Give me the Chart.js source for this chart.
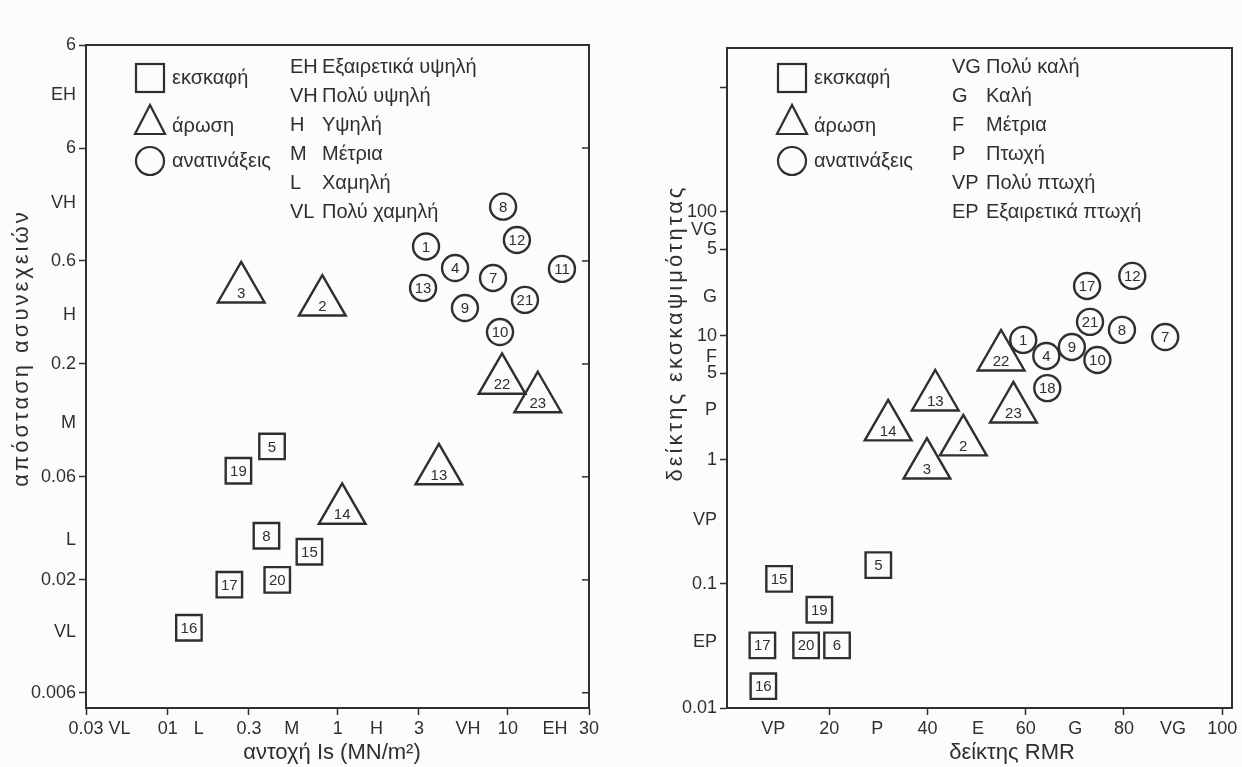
<!DOCTYPE html>
<html lang="el">
<head>
<meta charset="utf-8">
<title>Εκσκαψιμότητα πετρωμάτων</title>
<script src="https://cdn.jsdelivr.net/npm/chart.js@4.4.1/dist/chart.umd.min.js"></script>
<style>
  html, body { margin: 0; padding: 0; background: #fcfcfb; }
  body { width: 1242px; height: 767px; position: relative; overflow: hidden; }
  canvas { position: absolute; top: 0; }
  #chartIs { left: 0; }
  #chartRmr { left: 620px; }
</style>
</head>
<body>
<canvas id="chartIs" width="620" height="767"></canvas>
<canvas id="chartRmr" width="622" height="767"></canvas>
<script>
// --- left panel: point load strength Is vs discontinuity spacing ---
const isTickValues = [0.033, 0.052, 0.1, 0.152, 0.3, 0.536, 1, 1.69, 3, 5.82, 10, 18.9, 30];
const isTickLabels = ['0.03', 'VL', '01', 'L', '0.3', 'M', '1', 'H', '3', 'VH', '10', 'EH', '30'];
const spacingTickValues = [6, 3.52, 2, 1.11, 0.6, 0.337, 0.2, 0.107, 0.06, 0.0306, 0.02, 0.0115, 0.006];
const spacingTickLabels = ['6', 'EH', '6', 'VH', '0.6', 'H', '0.2', 'M', '0.06', 'L', '0.02', 'VL', '0.006'];

// εκσκαφή (squares)
const digIdsL = [5, 19, 8, 15, 17, 20, 16];
const digIsL = [0.41, 0.26, 0.38, 0.68, 0.23, 0.44, 0.133];
const digSpacingL = [0.083, 0.064, 0.032, 0.027, 0.019, 0.020, 0.012];
// άρωση (triangles)
const rippIdsL = [3, 2, 14, 13, 22, 23];
const rippIsL = [0.27, 0.81, 1.06, 3.93, 9.24, 15.0];
const rippSpacingL = [0.445, 0.387, 0.042, 0.064, 0.168, 0.138];
// ανατινάξεις (circles)
const blastIdsL = [8, 12, 1, 4, 7, 11, 13, 21, 9, 10];
const blastIsL = [9.37, 11.3, 3.30, 4.89, 8.18, 20.8, 3.17, 12.6, 5.59, 8.99];
const blastSpacingL = [1.07, 0.75, 0.70, 0.556, 0.50, 0.551, 0.45, 0.396, 0.363, 0.281];

const spacingCodes = ['EH', 'VH', 'H', 'M', 'L', 'VL'];
const spacingNames = ['Εξαιρετικά υψηλή', 'Πολύ υψηλή', 'Υψηλή', 'Μέτρια', 'Χαμηλή', 'Πολύ χαμηλή'];

// --- right panel: RMR vs excavatability index ---
const rmrTickValues = [8.6, 20, 29.8, 40, 50.3, 60, 70.1, 80, 90, 100];
const rmrTickLabels = ['VP', '20', 'P', '40', 'E', '60', 'G', '80', 'VG', '100'];
const indexTickValues = [1000, 100, 71.6, 50, 20.6, 10, 6.77, 5, 2.53, 1, 0.328, 0.1, 0.034, 0.01];
const indexTickLabels = ['', '100', 'VG', '5', 'G', '10', 'F', '5', 'P', '1', 'VP', '0.1', 'EP', '0.01'];

const digIdsR = [15, 19, 17, 20, 6, 16, 5];
const digRmrR = [9.8, 18.0, 6.4, 15.3, 21.6, 6.6, 30.0];
const digIndexR = [0.110, 0.062, 0.032, 0.032, 0.032, 0.015, 0.142];

const rippIdsR = [14, 13, 3, 2, 22, 23];
const rippRmrR = [32.0, 41.6, 39.9, 47.3, 55.0, 57.5];
const rippIndexR = [1.85, 3.22, 0.91, 1.40, 6.77, 2.58];

const blastIdsR = [17, 12, 21, 8, 7, 1, 4, 9, 10, 18];
const blastRmrR = [72.5, 81.7, 73.1, 79.6, 88.4, 59.5, 64.2, 69.4, 74.6, 64.4];
const blastIndexR = [25.3, 30.5, 13.0, 11.2, 9.8, 9.3, 6.9, 8.15, 6.4, 3.8];

const indexCodes = ['VG', 'G', 'F', 'P', 'VP', 'EP'];
const indexNames = ['Πολύ καλή', 'Καλή', 'Μέτρια', 'Πτωχή', 'Πολύ πτωχή', 'Εξαιρετικά πτωχή'];

const methodNames = ['εκσκαφή', 'άρωση', 'ανατινάξεις'];

const INK = '#2f2f2f';
const FONT = '"Liberation Sans", Arial, Helvetica, sans-serif';

// letter classes sit between the numeric ticks and get no tick mark
function hasMark(label) {
  return !/^[A-Z]+$/.test(label);
}

function points(xs, ys) {
  return xs.map((x, i) => ({ x: x, y: ys[i] }));
}

function markerSet(label, ids, xs, ys, style) {
  const sizes = { rect: 18, triangle: 27, circle: 13 };
  return {
    label: label,
    ids: ids,
    data: points(xs, ys),
    pointStyle: style,
    pointRadius: sizes[style],
    pointHoverRadius: sizes[style],
    borderColor: INK,
    backgroundColor: 'rgba(255,255,255,0)',
    borderWidth: 2.4
  };
}

// number written inside each marker
const markerLabels = {
  id: 'markerLabels',
  afterDatasetsDraw(chart) {
    const ctx = chart.ctx;
    ctx.save();
    ctx.font = '15px ' + FONT;
    ctx.fillStyle = INK;
    ctx.textAlign = 'center';
    ctx.textBaseline = 'middle';
    chart.data.datasets.forEach((ds, di) => {
      const meta = chart.getDatasetMeta(di);
      meta.data.forEach((pt, i) => {
        const dy = ds.pointStyle === 'triangle' ? 5 : 1;
        ctx.fillText(String(ds.ids[i]), pt.x, pt.y + dy);
      });
    });
    ctx.restore();
  }
};

// top and right sides of the box, optional inner ticks on the right
function framePlugin(innerTicks) {
  return {
    id: 'frame',
    afterDraw(chart) {
      const ctx = chart.ctx;
      const a = chart.chartArea;
      ctx.save();
      ctx.strokeStyle = INK;
      ctx.lineWidth = 2;
      ctx.beginPath();
      ctx.moveTo(a.left - 1, a.top);
      ctx.lineTo(a.right, a.top);
      ctx.lineTo(a.right, a.bottom + 1);
      ctx.stroke();
      if (innerTicks) {
        const ys = chart.scales.y;
        ctx.lineWidth = 1.5;
        ys.ticks.forEach((t, i) => {
          if (!hasMark(innerTicks[i])) return;
          const py = ys.getPixelForValue(t.value);
          ctx.beginPath();
          ctx.moveTo(a.right - 7, py);
          ctx.lineTo(a.right, py);
          ctx.stroke();
        });
      }
      ctx.restore();
    }
  };
}

// legend of methods, list of class names and the axis titles
function notesPlugin(n) {
  return {
    id: 'notes',
    afterDraw(chart) {
      const ctx = chart.ctx;
      ctx.save();
      ctx.strokeStyle = INK;
      ctx.fillStyle = INK;
      ctx.lineWidth = 2.2;

      const lx = n.legendX;
      const r = n.legendRows;
      ctx.strokeRect(lx - 14, r[0] - 14, 28, 28);
      ctx.beginPath();
      ctx.moveTo(lx, r[1] - 17);
      ctx.lineTo(lx - 15, r[1] + 12);
      ctx.lineTo(lx + 15, r[1] + 12);
      ctx.closePath();
      ctx.stroke();
      ctx.beginPath();
      ctx.arc(lx, r[2], 14, 0, Math.PI * 2);
      ctx.stroke();

      ctx.font = '20px ' + FONT;
      ctx.textAlign = 'left';
      ctx.textBaseline = 'middle';
      methodNames.forEach((t, i) => ctx.fillText(t, lx + 22, r[i] + (i === 1 ? 4 : 0)));

      n.codes.forEach((c, i) => {
        const y = n.listTop + i * n.listStep;
        ctx.fillText(c, n.codeX, y);
        ctx.fillText(n.names[i], n.nameX, y);
      });

      ctx.textAlign = 'center';
      ctx.font = '22px ' + FONT;
      ctx.fillText(n.xTitle, n.xTitleX, n.xTitleY);
      ctx.translate(n.yTitleX, n.yTitleY);
      ctx.rotate(-Math.PI / 2);
      ctx.letterSpacing = '3px';
      ctx.fillText(n.yTitle, 0, 0);
      ctx.restore();
    }
  };
}

function axisOptions(type, min, max, values, labels, fit) {
  return {
    type: type,
    min: min,
    max: max,
    afterBuildTicks: axis => {
      axis.ticks = values.map(v => ({ value: v }));
    },
    afterFit: fit,
    ticks: {
      autoSkip: false,
      maxRotation: 0,
      minRotation: 0,
      padding: 3,
      color: INK,
      font: { family: FONT, size: 18 },
      callback: (v, i) => labels[i]
    },
    grid: {
      display: true,
      drawOnChartArea: false,
      drawTicks: true,
      tickLength: 7,
      tickWidth: 1.5,
      tickColor: c => (hasMark(labels[c.index]) ? INK : 'rgba(0,0,0,0)')
    },
    border: { display: true, color: INK, width: 2 }
  };
}

function baseOptions(padding, scales) {
  return {
    responsive: false,
    animation: false,
    events: [],
    layout: { padding: padding, autoPadding: false },
    plugins: {
      legend: { display: false },
      tooltip: { enabled: false }
    },
    scales: scales
  };
}

// left chart
new Chart(document.getElementById('chartIs').getContext('2d'), {
  type: 'scatter',
  data: {
    datasets: [
      markerSet(methodNames[0], digIdsL, digIsL, digSpacingL, 'rect'),
      markerSet(methodNames[1], rippIdsL, rippIsL, rippSpacingL, 'triangle'),
      markerSet(methodNames[2], blastIdsL, blastIsL, blastSpacingL, 'circle')
    ]
  },
  options: baseOptions({ left: 0, top: 45, right: 31, bottom: 0 }, {
    x: axisOptions('logarithmic', 0.033, 30, isTickValues, isTickLabels, ax => {
      ax.height = 59; ax.paddingLeft = 0; ax.paddingRight = 0;
    }),
    y: axisOptions('logarithmic', 0.0051, 6, spacingTickValues, spacingTickLabels, ax => {
      ax.width = 86; ax.paddingTop = 0; ax.paddingBottom = 0;
    })
  }),
  plugins: [markerLabels, framePlugin(spacingTickLabels), notesPlugin({
    legendX: 150, legendRows: [78, 122, 161],
    codes: spacingCodes, names: spacingNames,
    codeX: 290, nameX: 322, listTop: 67, listStep: 29,
    xTitle: 'αντοχή Is (MN/m²)', xTitleX: 332, xTitleY: 753,
    yTitle: 'απόσταση ασυνεχειών', yTitleX: 22, yTitleY: 348
  })]
});

// right chart
new Chart(document.getElementById('chartRmr').getContext('2d'), {
  type: 'scatter',
  data: {
    datasets: [
      markerSet(methodNames[0], digIdsR, digRmrR, digIndexR, 'rect'),
      markerSet(methodNames[1], rippIdsR, rippRmrR, rippIndexR, 'triangle'),
      markerSet(methodNames[2], blastIdsR, blastRmrR, blastIndexR, 'circle')
    ]
  },
  options: baseOptions({ left: 0, top: 48, right: 10, bottom: 0 }, {
    x: axisOptions('linear', -0.8, 102, rmrTickValues, rmrTickLabels, ax => {
      ax.height = 59; ax.paddingLeft = 0; ax.paddingRight = 0;
    }),
    y: axisOptions('logarithmic', 0.01, 2100, indexTickValues, indexTickLabels, ax => {
      ax.width = 107; ax.paddingTop = 0; ax.paddingBottom = 0;
    })
  }),
  plugins: [markerLabels, framePlugin(null), notesPlugin({
    legendX: 172, legendRows: [78, 122, 161],
    codes: indexCodes, names: indexNames,
    codeX: 332, nameX: 366, listTop: 67, listStep: 29,
    xTitle: 'δείκτης RMR', xTitleX: 392, xTitleY: 753,
    yTitle: 'δείκτης εκσκαψιμότητας', yTitleX: 56, yTitleY: 333
  })]
});
</script>
</body>
</html>
